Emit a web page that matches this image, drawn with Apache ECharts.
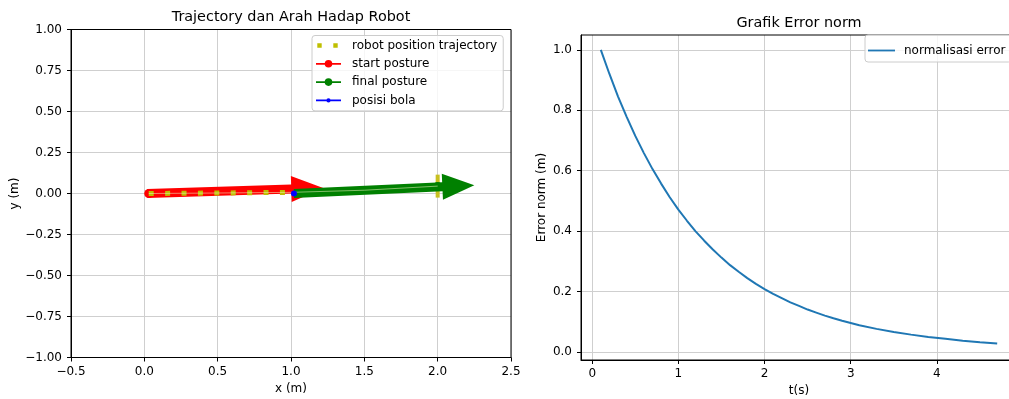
<!DOCTYPE html>
<html><head><meta charset="utf-8">
<script src="https://cdn.jsdelivr.net/npm/echarts@6/dist/echarts.min.js"></script>
<style>html,body{margin:0;padding:0;background:#fff}#c{width:1009px;height:399px}</style>
</head><body><div id="c"></div>
<script>
// ---------- data (left: trajectory) ----------
const trajX = [0.03, 0.5, 1.0, 1.5, 2.0];
const trajY = [0.0, 0.003, 0.007, 0.02, 0.045];
const startPosture = [0.03, 0.0];
const finalPosture = [2.0, 0.045];
const ballPos = [1.02, 0.0];
const startArrow = [0.02, 0.0, 1.22, 0.034];   // tail x, tail y, tip x, tip y
const finalArrow = [1.02, 0.0, 2.25, 0.05];
const endMark = [2.0, -0.025, 0.115];          // x, y from, y to
// ---------- data (right: error norm) ----------
const errT = [0.1, 0.2, 0.3, 0.4, 0.5, 0.6, 0.7, 0.8, 0.9, 1.0, 1.1, 1.2, 1.3, 1.4, 1.5, 1.6, 1.7, 1.8, 1.9, 2.0,
              2.1, 2.2, 2.3, 2.4, 2.5, 2.6, 2.7, 2.8, 2.9, 3.1, 3.3, 3.5, 3.7, 3.9, 4.1, 4.3, 4.5, 4.7];
const errVal = [1.0, 0.920, 0.845, 0.778, 0.715, 0.658, 0.605, 0.557, 0.512, 0.471, 0.434, 0.399, 0.368, 0.339, 0.312, 0.287, 0.265, 0.244, 0.225, 0.208,
                0.192, 0.178, 0.164, 0.152, 0.140, 0.130, 0.120, 0.111, 0.103, 0.088, 0.076, 0.066, 0.057, 0.049, 0.043, 0.037, 0.032, 0.028];
// ---------- tick labels ----------
const rightXTicks = [0, 1, 2, 3, 4];
const rightYTicks = [0.0, 0.2, 0.4, 0.6, 0.8, 1.0];

const FONT = 'DejaVu Sans';
const minus = s => s.replace('-', '\u2212');

function arrowItem(params, api) {
  const p0 = api.coord([api.value(0), api.value(1)]);
  const p1 = api.coord([api.value(2), api.value(3)]);
  const dx = p1[0] - p0[0], dy = p1[1] - p0[1];
  const len = Math.hypot(dx, dy);
  const ux = dx / len, uy = dy / len, nx = -uy, ny = ux;
  const L = 32, H = 13, W = 4.5;
  const bx = p1[0] - ux * L, by = p1[1] - uy * L;
  const pts = [
    [p0[0] + nx * W, p0[1] + ny * W], [bx + nx * W, by + ny * W], [bx + nx * H, by + ny * H],
    [p1[0], p1[1]], [bx - nx * H, by - ny * H], [bx - nx * W, by - ny * W], [p0[0] - nx * W, p0[1] - ny * W]
  ];
  return { type: 'polygon', shape: { points: pts }, style: { fill: api.visual('color'), stroke: null, lineWidth: 0 } };
}
function endMarkItem(params, api) {
  const a = api.coord([api.value(0), api.value(1)]);
  const b = api.coord([api.value(0), api.value(2)]);
  return { type: 'rect', shape: { x: a[0] - 2, y: b[1], width: 4, height: a[1] - b[1] }, style: { fill: api.visual('color') } };
}

const axisCommon = {
  axisLine: { show: true, onZero: false, lineStyle: { color: '#000', width: 1 } },
  axisTick: { show: true, length: 4, lineStyle: { color: '#000', width: 1 } },
  splitLine: { show: true, lineStyle: { color: '#cfcfcf', width: 1 } },
  nameTextStyle: { fontFamily: FONT, fontSize: 12, color: '#000' }
};

const circle = (cx, cy, r) => `M${cx + r},${cy}a${r},${r} 0 1 1 ${-2 * r},0a${r},${r} 0 1 1 ${2 * r},0z`;
const icoBox = 'M0,0 M31,14 ';
const lineIco = (len) => `M0,6.1h${len}v1.8h${-len}z `;

const option = {
  animation: false,
  backgroundColor: '#fff',
  textStyle: { fontFamily: FONT },
  grid: [
    { left: 71, top: 29.5, width: 440, height: 328, outerBoundsMode: 'none', containLabel: false, z: 1,
      show: true, borderColor: '#000', borderWidth: 1, backgroundColor: 'transparent' },
    { left: 581, top: 35, width: 436, height: 325, outerBoundsMode: 'none', containLabel: false, z: 1,
      show: true, borderColor: '#000', borderWidth: 1, backgroundColor: 'transparent' }
  ],
  xAxis: [
    Object.assign({}, axisCommon, {
      type: 'value', gridIndex: 0, min: -0.5, max: 2.5, interval: 0.5,
      name: 'x (m)', nameLocation: 'middle', nameGap: 24,
      axisLabel: { fontFamily: FONT, fontSize: 12, color: '#000', margin: 8, formatter: v => minus(v.toFixed(1)) }
    }),
    Object.assign({}, axisCommon, {
      type: 'value', gridIndex: 1, min: -0.13, max: 4.93,
      name: 't(s)', nameLocation: 'middle', nameGap: 25,
      axisTick: Object.assign({}, axisCommon.axisTick, { customValues: rightXTicks }),
      axisLabel: { fontFamily: FONT, fontSize: 12, color: '#000', margin: 8, customValues: rightXTicks, formatter: v => String(v) }
    })
  ],
  yAxis: [
    Object.assign({}, axisCommon, {
      type: 'value', gridIndex: 0, min: -1, max: 1, interval: 0.25,
      name: 'y (m)', nameLocation: 'middle', nameGap: 50,
      axisLabel: { fontFamily: FONT, fontSize: 12, color: '#000', margin: 9, formatter: v => minus(v.toFixed(2)) }
    }),
    Object.assign({}, axisCommon, {
      type: 'value', gridIndex: 1, min: -0.027, max: 1.049,
      name: 'Error norm (m)', nameLocation: 'middle', nameGap: 33,
      axisTick: Object.assign({}, axisCommon.axisTick, { customValues: rightYTicks }),
      axisLabel: { fontFamily: FONT, fontSize: 12, color: '#000', margin: 9, customValues: rightYTicks, formatter: v => v.toFixed(1) }
    })
  ],
  graphic: [
    { type: 'text', x: 291, y: 17, z: 100, style: { text: 'Trajectory dan Arah Hadap Robot', font: '14.4px "DejaVu Sans"', fill: '#000', align: 'center', verticalAlign: 'middle' } },
    { type: 'text', x: 799, y: 23.5, z: 100, style: { text: 'Grafik Error norm', font: '14.4px "DejaVu Sans"', fill: '#000', align: 'center', verticalAlign: 'middle' } }
  ],
  legend: [
    {
      orient: 'vertical', left: 312, top: 35.5, padding: [3, 6, 3.5, 4], itemWidth: 31, itemHeight: 14, itemGap: 4.3,
      backgroundColor: 'rgba(255,255,255,0.8)', borderColor: '#cccccc', borderWidth: 1, borderRadius: 3,
      selectedMode: false, symbolKeepAspect: false, itemStyle: { borderWidth: 0 },
      textStyle: { fontFamily: FONT, fontSize: 12, color: '#000' },
      data: [
        { name: 'robot position trajectory', icon: 'path://' + icoBox + 'M1.3,4.8h4.4v4.4h-4.4z M17.3,4.8h4.4v4.4h-4.4z' },
        { name: 'start posture', icon: 'path://' + icoBox + lineIco(25) + circle(12.5, 7, 3.8) },
        { name: 'final posture', icon: 'path://' + icoBox + lineIco(25) + circle(12.5, 7, 3.8) },
        { name: 'posisi bola', icon: 'path://' + icoBox + lineIco(25) + circle(12.5, 7, 2.1) }
      ]
    },
    {
      orient: 'vertical', left: 865, top: 35, padding: [8.5, 6, 4.5, 3], itemWidth: 31, itemHeight: 14,
      backgroundColor: 'rgba(255,255,255,0.8)', borderColor: '#cccccc', borderWidth: 1, borderRadius: 3,
      selectedMode: false, symbolKeepAspect: false, itemStyle: { borderWidth: 0 },
      textStyle: { fontFamily: FONT, fontSize: 12, color: '#000' },
      data: [{ name: 'normalisasi error', icon: 'path://' + icoBox + lineIco(27) }]
    }
  ],
  series: [
    { type: 'custom', name: 'startArrow', xAxisIndex: 0, yAxisIndex: 0, z: 2, renderItem: arrowItem,
      encode: { x: [0, 2], y: [1, 3] }, itemStyle: { color: '#ff0000' }, data: [startArrow] },
    { type: 'line', name: 'start posture', xAxisIndex: 0, yAxisIndex: 0, z: 3, color: '#ff0000',
      symbol: 'circle', symbolSize: 9, showSymbol: true, itemStyle: { color: '#ff0000', borderWidth: 0 },
      lineStyle: { color: '#ff0000', width: 1.8 }, data: [startPosture] },
    { type: 'line', name: 'robot position trajectory', xAxisIndex: 0, yAxisIndex: 0, z: 4, color: '#bfbf00',
      showSymbol: false, symbol: 'none', itemStyle: { color: '#bfbf00', borderWidth: 0 },
      lineStyle: { color: '#bfbf00', width: 5, type: [5, 11.4], cap: 'butt' },
      data: trajX.map((x, i) => [x, trajY[i]]) },
    { type: 'custom', name: 'endMark', xAxisIndex: 0, yAxisIndex: 0, z: 4, renderItem: endMarkItem,
      encode: { x: 0, y: [1, 2] }, itemStyle: { color: '#c8c020' }, data: [endMark] },
    { type: 'line', name: 'final posture', xAxisIndex: 0, yAxisIndex: 0, z: 5, color: '#008000',
      symbol: 'circle', symbolSize: 8, showSymbol: true, itemStyle: { color: '#008000', borderWidth: 0 },
      lineStyle: { color: '#008000', width: 1.8 }, data: [finalPosture] },
    { type: 'custom', name: 'finalArrow', xAxisIndex: 0, yAxisIndex: 0, z: 6, renderItem: arrowItem,
      encode: { x: [0, 2], y: [1, 3] }, itemStyle: { color: '#008000' }, data: [finalArrow] },
    { type: 'line', name: 'trajOverlay', xAxisIndex: 0, yAxisIndex: 0, z: 7, showSymbol: false, symbol: 'none',
      lineStyle: { color: 'rgba(235,240,190,0.55)', width: 1 }, data: trajX.map((x, i) => [x, trajY[i]]) },
    { type: 'line', name: 'posisi bola', xAxisIndex: 0, yAxisIndex: 0, z: 8, color: '#0000ff',
      symbol: 'circle', symbolSize: 6, showSymbol: true, itemStyle: { color: '#0000ff', borderWidth: 0 },
      lineStyle: { color: '#0000ff', width: 1.8 }, data: [ballPos] },
    { type: 'line', name: 'normalisasi error', xAxisIndex: 1, yAxisIndex: 1, z: 3, color: '#1f77b4',
      showSymbol: false, symbol: 'none', smooth: false, itemStyle: { color: '#1f77b4', borderWidth: 0 },
      lineStyle: { color: '#1f77b4', width: 2 }, data: errT.map((t, i) => [t, errVal[i]]) }
  ]
};
const chart = echarts.init(document.getElementById('c'), null, { renderer: 'canvas' });
chart.setOption(option);
</script>
</body></html>
